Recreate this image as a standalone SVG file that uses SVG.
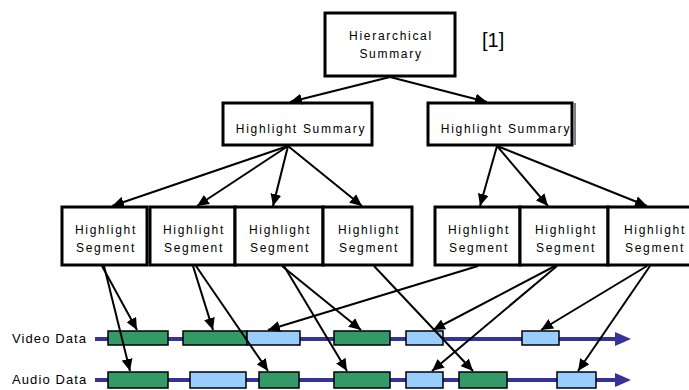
<svg xmlns="http://www.w3.org/2000/svg" width="689" height="390" viewBox="0 0 689 390">
<defs>
<style>
.box{fill:#fff;stroke:#000;stroke-width:3}
.t{font-family:"Liberation Sans",Arial,sans-serif;font-size:12px;letter-spacing:1.7px;fill:#000;text-anchor:middle}
.lbl{font-family:"Liberation Sans",Arial,sans-serif;font-size:13px;letter-spacing:1.1px;fill:#000}
.c{stroke:#000;stroke-width:2;fill:none;marker-end:url(#ah)}
.track{stroke:#333399;stroke-width:4;fill:none}
.g{fill:#339966;stroke:#000;stroke-width:1.5}
.b{fill:#99CCFF;stroke:#000;stroke-width:1.5}
</style>
<marker id="ah" markerUnits="userSpaceOnUse" markerWidth="13" markerHeight="11" refX="12" refY="5.5" orient="auto">
<path d="M0,0 L12,5.5 L0,11 z" fill="#000"/>
</marker>
</defs>
<rect width="689" height="390" fill="#fff"/>

<g id="root">
<rect class="box" x="325" y="13" width="130" height="63"/>
<text class="t" x="391" y="40">Hierarchical</text>
<text class="t" x="391" y="58">Summary</text>
</g>
<text x="482" y="47" font-family="Liberation Sans,Arial,sans-serif" font-size="20">[1]</text>

<g id="hs1">
<rect class="box" x="223" y="103" width="149" height="42"/>
<text class="t" x="301" y="133">Highlight Summary</text>
</g>
<g id="hs2">
<rect class="box" x="428" y="103" width="144" height="42"/>
<line x1="575" y1="103" x2="575" y2="145" stroke="#000" stroke-width="1"/>
<text class="t" x="506" y="133">Highlight Summary</text>
</g>

<g id="seg1"><rect class="box" x="62" y="207" width="85" height="58"/><text class="t" x="106" y="234">Highlight</text><text class="t" x="106" y="252">Segment</text></g>
<g id="seg2"><rect class="box" x="150" y="207" width="85" height="58"/><text class="t" x="194" y="234">Highlight</text><text class="t" x="194" y="252">Segment</text></g>
<g id="seg3"><rect class="box" x="235" y="207" width="88" height="58"/><text class="t" x="280" y="234">Highlight</text><text class="t" x="280" y="252">Segment</text></g>
<g id="seg4"><rect class="box" x="323" y="207" width="89" height="58"/><text class="t" x="369" y="234">Highlight</text><text class="t" x="369" y="252">Segment</text></g>
<g id="seg5"><rect class="box" x="435" y="207" width="85" height="58"/><text class="t" x="479" y="234">Highlight</text><text class="t" x="479" y="252">Segment</text></g>
<g id="seg6"><rect class="box" x="520" y="207" width="88" height="58"/><text class="t" x="566" y="234">Highlight</text><text class="t" x="566" y="252">Segment</text></g>
<g id="seg7"><rect class="box" x="608" y="207" width="88" height="58"/><text class="t" x="655" y="234">Highlight</text><text class="t" x="655" y="252">Segment</text></g>

<g id="video">
<text class="lbl" x="12" y="343">Video Data</text>
<line class="track" x1="95" y1="339" x2="616" y2="339"/>
<path d="M615,332 L631,339 L615,346 z" fill="#333399"/>
<rect class="g" x="108" y="331" width="60" height="14"/>
<rect class="g" x="183" y="331" width="64" height="14"/>
<rect class="b" x="247" y="331" width="53" height="14"/>
<rect class="g" x="334" y="331" width="56" height="14"/>
<rect class="b" x="406" y="331" width="37" height="14"/>
<rect class="b" x="522" y="331" width="37" height="14"/>
</g>
<g id="audio">
<text class="lbl" x="12" y="384">Audio Data</text>
<line class="track" x1="95" y1="380" x2="616" y2="380"/>
<path d="M615,373 L631,380 L615,387 z" fill="#333399"/>
<rect class="g" x="108" y="372" width="60" height="16"/>
<rect class="b" x="190" y="372" width="56" height="16"/>
<rect class="g" x="259" y="372" width="40" height="16"/>
<rect class="g" x="334" y="372" width="56" height="16"/>
<rect class="b" x="406" y="372" width="37" height="16"/>
<rect class="g" x="459" y="372" width="48" height="16"/>
<rect class="b" x="557" y="372" width="39" height="16"/>
</g>

<g id="connectors">
<line class="c" x1="390" y1="77" x2="290" y2="102"/>
<line class="c" x1="390" y1="77" x2="487" y2="102"/>
<line class="c" x1="288" y1="146" x2="112" y2="206"/>
<line class="c" x1="288" y1="146" x2="197" y2="206"/>
<line class="c" x1="288" y1="146" x2="273" y2="206"/>
<line class="c" x1="288" y1="146" x2="362" y2="206"/>
<line class="c" x1="497" y1="146" x2="480" y2="206"/>
<line class="c" x1="497" y1="146" x2="548" y2="206"/>
<line class="c" x1="497" y1="146" x2="647" y2="206"/>
<line class="c" x1="102" y1="266" x2="137" y2="330"/>
<line class="c" x1="104" y1="266" x2="130" y2="371"/>
<line class="c" x1="193" y1="266" x2="213" y2="330"/>
<line class="c" x1="196" y1="266" x2="268" y2="371"/>
<line class="c" x1="282" y1="266" x2="361" y2="330"/>
<line class="c" x1="284" y1="266" x2="347" y2="371"/>
<line class="c" x1="374" y1="266" x2="473" y2="371"/>
<line class="c" x1="478" y1="266" x2="268" y2="330"/>
<line class="c" x1="555" y1="266" x2="433" y2="330"/>
<line class="c" x1="557" y1="266" x2="432" y2="371"/>
<line class="c" x1="647" y1="266" x2="541" y2="330"/>
<line class="c" x1="650" y1="266" x2="578" y2="371"/>
</g>
</svg>
